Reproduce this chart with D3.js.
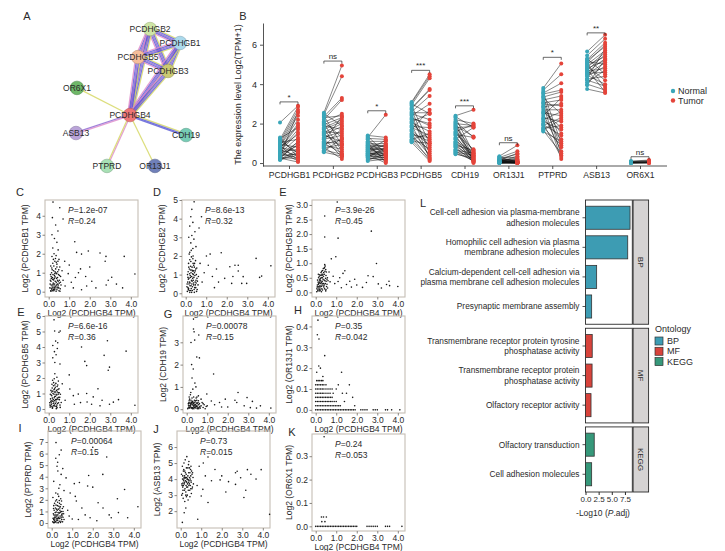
<!DOCTYPE html>
<html lang="en">
<head>
<meta charset="UTF-8">
<title>PCDHGB4 network, expression and enrichment</title>
<script src="https://d3js.org/d3.v7.min.js"></script>
<style>
    body { margin: 0; padding: 0; background: #fff; }
    svg { font-family: "Liberation Sans Narrow", "Liberation Sans", Arial, sans-serif; }
</style>
</head>
<body>
<svg id="fig" width="725" height="551"></svg>
<script>
// ---------- A: interaction network ----------
const nodeNames = ["PCDHGB2", "PCDHGB1", "PCDHGB5", "PCDHGB3", "OR6X1", "PCDHGB4", "ASB13", "CDH19", "PTPRD", "OR13J1"];
const nodeLayoutX = [0.667, 0.917, 0.567, 0.817, 0.058, 0.5, 0.05, 0.967, 0.308, 0.708];
const nodeLayoutY = [0.028, 0.124, 0.221, 0.317, 0.434, 0.621, 0.745, 0.759, 0.972, 0.972];
const nodeFill = ["#cfe6a6", "#aad9ec", "#f6bd9a", "#cbc972", "#6fb868", "#ef7575", "#baa4d9", "#76ccb5", "#a8e0b5", "#7080b9"];
const edgeSource = ["PCDHGB2", "PCDHGB2", "PCDHGB2", "PCDHGB2", "PCDHGB1", "PCDHGB1", "PCDHGB1", "PCDHGB5", "PCDHGB5", "PCDHGB3",
                    "PCDHGB4", "PCDHGB4", "PCDHGB4", "PCDHGB4", "PCDHGB4"];
const edgeTarget = ["PCDHGB1", "PCDHGB5", "PCDHGB3", "PCDHGB4", "PCDHGB5", "PCDHGB3", "PCDHGB4", "PCDHGB3", "PCDHGB4", "PCDHGB4",
                    "OR6X1", "ASB13", "CDH19", "PTPRD", "OR13J1"];
// evidence channels: y yellow, k pink, b blue, p purple
const edgeEvidence = ["ybpbk", "ybpbk", "ybpbk", "ybpbk", "ybpbk", "ybpbk", "ybpbk", "ybpbk", "ybpbk", "ybpbk",
                      "y", "kp", "ybb", "ky", "y"];
const evidenceColor = { y: "#d3d65c", k: "#dd86c8", b: "#5656d4", p: "#8a62d0" };

// ---------- B: paired normal / tumor expression ----------
const bGenes = ["PCDHGB1", "PCDHGB2", "PCDHGB3", "PCDHGB5", "CDH19", "OR13J1", "PTPRD", "ASB13", "OR6X1"];
const bNormal = [
    [2.05,1.3,1.25,1.2,1.15,1.1,1.05,1.0,0.95,0.9,0.88,0.85,0.8,0.78,0.75,0.7,0.68,0.65,0.6,0.58,0.55,0.5,0.48,0.45,0.4,0.38,0.35,0.3,0.28,0.25,0.22,0.2,0.18,0.15],
    [2.55,2.5,2.45,2.4,2.35,2.3,2.2,2.1,2.05,2.0,1.95,1.9,1.8,1.75,1.7,1.6,1.55,1.5,1.45,1.4,1.3,1.25,1.2,1.1,1.05,1.0,0.95,0.9,0.85,0.8,0.75,0.65,0.6,0.55],
    [1.4,1.35,1.3,1.25,1.2,1.1,1.05,1.0,0.95,0.9,0.88,0.85,0.8,0.78,0.75,0.7,0.68,0.65,0.6,0.58,0.55,0.5,0.48,0.45,0.42,0.4,0.38,0.35,0.3,0.28,0.25,0.2,0.15,0.1],
    [3.1,3.05,3.0,2.95,2.9,2.8,2.75,2.7,2.6,2.55,2.5,2.45,2.4,2.3,2.25,2.2,2.1,2.05,2.0,1.9,1.85,1.8,1.7,1.65,1.6,1.5,1.45,1.4,1.35,1.3,1.2,1.15,1.1,1.05],
    [2.4,2.35,2.3,2.2,2.1,2.05,2.0,1.95,1.9,1.85,1.8,1.75,1.7,1.6,1.55,1.5,1.45,1.4,1.3,1.25,1.2,1.1,1.05,1.0,0.95,0.9,0.85,0.8,0.7,0.65,0.6,0.55,0.5,0.45],
    [0.35,0.3,0.28,0.25,0.22,0.2,0.18,0.17,0.15,0.14,0.13,0.12,0.11,0.1,0.09,0.08,0.07,0.06,0.05,0.05,0.04,0.03,0.03,0.02,0.02,0.01,0.01,0.0,0.0,0.0],
    [3.8,3.7,3.6,3.55,3.5,3.4,3.35,3.3,3.2,3.1,3.05,3.0,2.9,2.85,2.8,2.7,2.6,2.55,2.5,2.4,2.3,2.25,2.2,2.1,2.0,1.95,1.9,1.8,1.75,1.7,1.65,1.6],
    [5.65,5.45,5.3,5.25,5.2,5.15,5.1,5.05,5.0,4.95,4.9,4.85,4.8,4.75,4.7,4.65,4.6,4.55,4.5,4.45,4.4,4.3,4.25,4.2,4.1,4.0,3.95,3.75],
    [0.1,0.08,0.06,0.05,0.04,0.03,0.02,0.02,0.01,0.0,0.0,0.0]
];
const bTumor = [
    [2.9,0.3,1.8,2.85,0.5,2.7,1.2,2.55,0.8,2.4,0.15,2.2,1.45,0.6,2.0,1.9,0.35,1.7,0.1,1.55,0.7,1.3,0.25,1.05,0.9,0.45,2.6,0.2,0.95,0.05,1.1,0.65,0.4,0.55],
    [4.95,1.9,4.4,0.9,3.3,2.4,3.2,1.3,2.5,0.6,2.3,1.7,2.2,0.4,2.1,1.5,2.0,0.8,1.85,1.1,1.6,0.3,1.4,2.35,1.0,0.5,1.2,0.7,1.75,0.2,0.95,0.45,1.25,0.35],
    [1.3,0.5,2.45,1.2,0.3,1.1,0.8,0.05,1.0,0.65,0.9,0.2,0.85,0.6,0.4,0.75,1.15,0.7,0.1,0.55,0.95,0.45,0.35,0.65,0.0,0.6,0.25,0.5,0.8,0.4,0.15,0.3,0.45,0.2],
    [4.5,4.4,2.5,4.3,1.0,3.75,3.7,0.5,3.4,2.55,2.2,0.2,3.0,1.9,2.0,0.8,2.5,1.6,1.2,0.3,1.8,1.4,2.7,0.9,0.6,1.1,0.4,1.3,0.15,0.7,1.5,0.25,1.0,0.1],
    [2.7,1.8,0.5,2.0,1.3,0.3,1.9,0.1,1.35,0.6,1.85,0.2,0.05,1.95,0.4,0.7,1.3,0.15,0.35,0.0,1.8,0.55,0.25,0.45,0.1,0.65,0.3,0.05,0.2,0.5,0.1,0.4,0.15,0.25],
    [0.9,0.05,0.6,0.3,0.45,0.1,0.02,0.2,0.0,0.5,0.08,0.15,0.0,0.25,0.04,0.12,0.0,0.35,0.06,0.0,0.1,0.02,0.18,0.0,0.05,0.03,0.0,0.07,0.01,0.0],
    [5.05,4.5,1.0,4.05,3.7,0.4,3.6,2.5,3.4,0.8,3.2,2.9,0.2,3.0,1.5,2.7,1.8,2.4,0.6,3.3,2.1,1.2,2.6,1.7,0.3,1.4,2.3,0.9,1.9,2.2,0.5,1.1],
    [6.5,6.3,4.5,6.1,5.9,5.0,6.0,3.8,5.7,5.4,4.2,5.6,5.2,3.6,5.5,4.8,5.3,4.6,5.1,4.0,4.9,5.8,4.4,3.9,4.7,3.7,5.25,3.55],
    [0.15,0.1,0.12,0.05,0.08,0.03,0.06,0.02,0.04,0.01,0.0,0.02]
];
const bSignif = ["*", "ns", "*", "***", "***", "ns", "*", "**", "ns"];
const bBracketY = [3.1, 5.17, 2.65, 4.7, 2.9, 1.03, 5.36, 6.6, 0.32];
const bYTicks = [0, 2, 4, 6];

// ---------- C-K: correlation with PCDHGB4 ----------
const xTicks = [0, 1, 2, 3, 4];
const ptsC = [[0.21,4.72],[0.54,4.42],[0.18,3.9],[0.7,3.83],[0.34,3.51],[0.16,3.0],[0.45,3.2],[0.28,2.8],[0.4,2.6],[1.27,2.63],[1.36,2.07],[1.6,1.98],[1.93,2.14],[2.5,2.04],[2.79,1.86],[2.75,1.6],[3.68,1.86],[4.2,0.93],[3.07,0.76],[2.9,0.6],[2.8,0.35],[3.3,0.4],[3.6,0.2],[2.3,0.2],[1.85,0.3],[1.3,0.75],[0.95,0.95],[1.45,1.0],[1.0,1.4],[0.78,1.6],[1.55,1.2],[2.0,1.3],[1.8,0.8],[1.1,0.5],[0.8,0.3],[1.6,0.1],[2.1,0.55],[0.65,1.1],[0.7,0.6],[1.2,0.2],
    [0.1,0.05],[0.15,0.1],[0.2,0.2],[0.25,0.05],[0.3,0.15],[0.35,0.3],[0.4,0.1],[0.45,0.25],[0.5,0.05],[0.12,0.35],[0.22,0.45],[0.32,0.55],[0.42,0.4],[0.52,0.6],[0.08,0.6],[0.18,0.75],[0.28,0.85],[0.38,0.7],[0.48,0.9],[0.14,1.0],[0.24,1.1],[0.34,1.2],[0.44,1.05],[0.54,1.3],[0.1,1.35],[0.2,1.5],[0.3,1.6],[0.4,1.45],[0.5,1.7],[0.16,1.85],[0.26,2.0],[0.36,1.9],[0.46,2.2],[0.2,2.3],[0.06,0.2],[0.26,0.3],[0.36,0.02],[0.56,0.15],[0.6,0.35],[0.12,0.8],[0.3,0.95],[0.46,0.55],[0.24,0.62],[0.4,1.3],[0.58,0.8],
    [0.07,0.4],[0.11,0.55],[0.13,0.18],[0.17,0.3],[0.19,0.65],[0.21,0.9],[0.23,0.12],[0.27,0.7],[0.29,0.4],[0.31,1.05],[0.33,0.25],[0.37,0.5],[0.39,0.95],[0.41,0.2],[0.43,0.75],[0.47,0.35],[0.49,1.15],[0.51,0.45],[0.53,0.85],[0.57,0.5],[0.09,0.9],[0.15,1.25],[0.25,1.35],[0.35,1.0],[0.45,1.6],[0.19,0.05],[0.29,0.1],[0.39,0.35],[0.49,0.2],[0.13,0.7],[0.23,1.7],[0.33,1.75],[0.43,0.6],[0.17,1.15],[0.27,0.22],[0.37,1.55],[0.55,0.02],[0.11,0.02],[0.21,0.38],[0.31,0.78]];
const ptsD = [[0.41,4.9],[0.65,3.5],[0.77,4.1],[0.3,4.5],[0.25,4.1],[0.35,3.8],[0.2,3.6],[0.45,3.3],[0.3,3.1],[0.15,3.0],[0.4,2.9],[0.25,2.7],[0.5,2.5],[0.35,2.4],[0.2,2.2],[1.01,2.0],[1.19,2.1],[1.73,2.17],[2.15,1.42],[2.4,1.5],[2.56,1.5],[2.56,1.19],[2.8,0.89],[2.97,0.53],[2.73,0.53],[3.43,1.87],[3.7,0.92],[3.6,0.85],[4.15,1.47],[2.24,0.53],[2.3,0.9],[1.5,1.3],[1.3,0.9],[1.6,0.6],[1.9,0.8],[1.1,1.5],[0.9,1.1],[0.8,0.6],[1.4,0.3],[0.7,1.6],
    [0.08,0.1],[0.14,0.25],[0.2,0.05],[0.26,0.4],[0.32,0.15],[0.38,0.55],[0.44,0.3],[0.5,0.7],[0.56,0.2],[0.1,0.6],[0.16,0.8],[0.22,0.95],[0.28,0.7],[0.34,1.05],[0.4,0.85],[0.46,1.2],[0.52,1.0],[0.12,1.15],[0.18,1.3],[0.24,1.45],[0.3,1.25],[0.36,1.6],[0.42,1.4],[0.48,1.75],[0.2,1.8],[0.28,1.95],[0.36,2.0],[0.6,0.45],[0.62,0.9],[0.06,0.35],[0.24,0.15],[0.3,0.5],[0.42,0.05],[0.16,0.5],[0.34,0.8],[0.46,0.6],[0.54,1.35],[0.14,1.6],[0.26,1.1],[0.38,1.2],
    [0.07,0.5],[0.11,0.3],[0.13,0.75],[0.17,0.15],[0.19,1.05],[0.21,0.4],[0.23,1.25],[0.27,0.25],[0.29,0.9],[0.31,1.4],[0.33,0.35],[0.37,0.7],[0.39,1.5],[0.41,0.2],[0.43,1.1],[0.47,0.45],[0.49,1.3],[0.51,0.55],[0.53,0.1],[0.57,0.65],[0.09,1.0],[0.15,1.4],[0.25,1.7],[0.35,1.85],[0.45,0.95],[0.19,0.6],[0.29,0.05],[0.39,0.45],[0.49,0.3],[0.13,0.2],[0.23,0.85],[0.33,1.2],[0.43,1.6],[0.17,2.1],[0.27,2.3],[0.37,1.0],[0.55,0.8],[0.11,0.85],[0.21,0.55],[0.31,0.65]];
const ptsE1 = [[1.05,3.1],[0.44,2.62],[0.44,1.9],[1.09,1.86],[0.98,1.22],[0.76,1.15],[2.71,2.1],[2.96,0.99],[2.55,0.57],[2.8,0.54],[2.47,0.34],[3.05,0.29],[3.45,0.27],[3.57,0.38],[4.0,0.2],[3.6,0.23],[2.28,0.17],[1.66,0.38],[1.5,0.27],[1.33,0.65],[1.42,0.74],[1.17,0.5],[1.09,0.37],[1.74,0.18],[1.25,0.16],[0.93,0.3],[0.7,0.36],[0.85,0.55],[0.65,0.7],[2.0,0.25],[1.9,0.45],[3.2,0.15],
    [0.05,0.02],[0.1,0.08],[0.15,0.15],[0.2,0.05],[0.25,0.22],[0.3,0.12],[0.35,0.3],[0.4,0.18],[0.45,0.4],[0.5,0.1],[0.55,0.28],[0.08,0.25],[0.12,0.35],[0.18,0.42],[0.22,0.3],[0.28,0.5],[0.32,0.38],[0.38,0.55],[0.42,0.62],[0.48,0.48],[0.52,0.7],[0.14,0.5],[0.2,0.6],[0.26,0.68],[0.34,0.75],[0.4,0.82],[0.46,0.9],[0.44,0.95],[0.3,0.62],[0.36,0.45],[0.24,0.4],[0.16,0.2],[0.58,0.15],[0.6,0.4],[0.06,0.12],[0.5,0.58],[0.28,0.02],[0.42,0.25],
    [0.07,0.18],[0.11,0.05],[0.13,0.28],[0.17,0.1],[0.19,0.35],[0.21,0.15],[0.23,0.48],[0.27,0.2],[0.29,0.32],[0.31,0.58],[0.33,0.08],[0.37,0.22],[0.39,0.68],[0.41,0.42],[0.43,0.12],[0.47,0.3],[0.49,0.78],[0.51,0.38],[0.53,0.2],[0.57,0.5],[0.09,0.42],[0.15,0.3],[0.25,0.58],[0.35,0.62],[0.45,0.72],[0.19,0.22],[0.29,0.72],[0.39,0.3],[0.49,0.05],[0.13,0.62],[0.23,0.08],[0.33,0.5],[0.43,0.85],[0.17,0.55],[0.27,0.35],[0.37,0.82],[0.55,0.45],[0.11,0.2],[0.21,0.45],[0.31,0.25]];
const ptsE2 = [[0.26,5.75],[0.29,5.03],[0.56,5.03],[0.5,4.95],[0.34,4.38],[0.44,4.27],[0.2,4.1],[0.28,3.7],[0.36,3.5],[0.2,3.3],[0.55,2.9],[0.3,3.0],[0.42,3.9],[2.86,4.4],[3.77,3.73],[2.7,3.46],[2.96,2.7],[2.9,2.5],[1.76,3.07],[1.6,4.0],[1.85,2.8],[1.55,0.41],[1.87,0.45],[2.6,0.56],[2.96,0.3],[3.15,0.44],[4.2,0.24],[1.03,1.29],[1.2,0.86],[0.66,1.62],[1.44,0.96],[1.85,1.0],[2.17,0.78],[0.8,0.56],[1.25,0.3],[2.09,0.3],[2.5,0.2],[0.4,2.05],[0.3,2.27],[2.4,1.3],[3.4,0.6],[1.0,2.2],
    [0.07,0.12],[0.13,0.3],[0.19,0.08],[0.25,0.45],[0.31,0.18],[0.37,0.6],[0.43,0.35],[0.49,0.75],[0.55,0.25],[0.09,0.65],[0.15,0.85],[0.21,1.0],[0.27,0.72],[0.33,1.1],[0.39,0.9],[0.45,1.25],[0.51,1.05],[0.11,1.2],[0.17,1.35],[0.23,1.5],[0.29,1.3],[0.35,1.65],[0.41,1.45],[0.47,1.8],[0.19,1.85],[0.05,0.4],[0.23,0.2],[0.29,0.55],[0.41,0.08],[0.15,0.52],[0.33,0.82],[0.45,0.62],[0.57,0.95],[0.61,0.42],[0.37,0.02],[0.27,1.95],
    [0.06,0.25],[0.1,0.5],[0.12,0.9],[0.16,0.15],[0.18,0.7],[0.2,1.15],[0.22,0.35],[0.26,0.95],[0.28,0.25],[0.3,0.8],[0.32,1.4],[0.36,0.45],[0.38,1.2],[0.4,0.25],[0.42,0.7],[0.46,0.95],[0.48,0.4],[0.5,1.3],[0.52,0.6],[0.56,0.1],[0.08,0.95],[0.14,1.1],[0.24,1.7],[0.34,0.6],[0.44,1.55],[0.18,0.05],[0.28,1.1],[0.38,0.15],[0.48,1.05],[0.12,0.4],[0.22,0.6],[0.32,0.35],[0.42,1.1],[0.16,1.6],[0.26,1.25],[0.36,0.95],[0.54,0.75],[0.1,0.2],[0.2,0.5],[0.3,1.55]];
const ptsG = [[0.33,4.04],[0.33,3.6],[0.36,3.47],[0.59,3.33],[0.21,2.99],[0.39,3.1],[0.49,2.34],[0.62,2.3],[0.24,2.0],[0.32,1.8],[1.31,1.58],[0.26,1.4],[0.4,1.17],[0.98,0.68],[0.57,0.6],[1.88,0.45],[2.5,0.75],[2.94,0.52],[3.2,0.35],[3.59,0.15],[4.1,0.05],[3.1,0.07],[2.44,0.3],[1.7,0.1],[1.2,0.37],[1.36,0.2],[1.6,0.3],[2.35,0.4],[0.3,0.9],[0.45,1.0],[0.2,0.75],[0.5,0.55],[0.8,0.25],[1.0,0.15],[2.0,0.1],[2.8,0.15],[3.4,0.05],[0.7,0.45],
    [0.05,0.02],[0.1,0.1],[0.15,0.05],[0.2,0.2],[0.25,0.08],[0.3,0.3],[0.35,0.12],[0.4,0.22],[0.45,0.05],[0.5,0.15],[0.55,0.3],[0.6,0.08],[0.08,0.25],[0.12,0.38],[0.18,0.15],[0.22,0.32],[0.28,0.02],[0.32,0.18],[0.38,0.4],[0.42,0.1],[0.48,0.28],[0.52,0.02],[0.58,0.2],[0.64,0.12],[0.14,0.45],[0.26,0.5],[0.36,0.3],[0.44,0.38],[0.16,0.28],[0.3,0.08],
    [0.07,0.05],[0.09,0.18],[0.11,0.3],[0.13,0.08],[0.17,0.25],[0.19,0.1],[0.21,0.4],[0.23,0.05],[0.27,0.2],[0.29,0.35],[0.31,0.05],[0.33,0.25],[0.37,0.18],[0.39,0.08],[0.41,0.32],[0.43,0.2],[0.47,0.12],[0.49,0.4],[0.51,0.25],[0.53,0.1],[0.57,0.38],[0.59,0.02],[0.62,0.25],[0.66,0.05],[0.7,0.15],[0.75,0.3],[0.8,0.08],[0.85,0.2],[0.9,0.02],[0.95,0.12],[0.12,0.55],[0.18,0.65],[0.24,0.3],[0.34,0.55],[0.46,0.5],[0.15,0.15],[0.25,0.25],[0.35,0.02],[0.45,0.15],[0.55,0.05]];
const ptsH = [[0.11,0.43],[0.08,0.36],[0.16,0.34],[0.44,0.26],[0.15,0.21],[0.23,0.2],[0.05,0.18],[1.26,0.18],[1.64,0.12],[0.35,0.16]];
const hLevelY = [0.14, 0.12, 0.1, 0.08, 0.06, 0.04, 0.02, 0];
const hLevelX = [
    [0.05,0.12,0.2,0.28,0.35],
    [0,0.08,0.16,0.24,0.32,0.4,0.5,1.1],
    [0,0.08,0.16,0.24,0.32,0.4,0.5,0.6,0.7,0.8,1.0],
    [0,0.08,0.16,0.24,0.32,0.4,0.5,0.6,0.7,0.85,1.3,1.5],
    [0,0.08,0.16,0.24,0.32,0.4,0.48,0.56,0.64,0.72,0.8,1.8],
    [0,0.08,0.16,0.24,0.32,0.4,0.48,0.56,0.64,0.72,0.8,0.9,1.0,1.4],
    [0,0.08,0.16,0.24,0.32,0.4,0.48,0.56,0.64,0.72,0.8,0.88,0.96,1.04,1.12,1.2,1.9],
    [0,0.08,0.16,0.24,0.32,0.4,0.48,0.56,0.64,0.72,0.8,0.88,0.96,1.04,1.12,1.2,1.28,1.36,1.44,1.52,1.6,1.68,1.76,1.84,1.92,2.2,2.3,2.4,2.5,2.8,2.9,3.0,3.4,3.5,3.7,4.1]
];
const ptsI = [[0.21,6.95],[0.46,6.3],[0.37,5.9],[0.29,5.25],[0.26,4.9],[0.54,4.7],[0.46,4.2],[0.7,3.9],[0.1,3.6],[0.3,4.5],[0.2,5.6],[0.4,3.3],[2.0,6.55],[2.68,5.7],[2.49,4.2],[1.8,4.1],[1.75,3.2],[1.35,3.5],[2.0,3.1],[1.1,3.4],[1.15,2.3],[2.26,1.75],[2.5,1.3],[2.8,0.7],[2.9,0.45],[3.25,0.9],[3.55,2.9],[3.7,0.45],[4.2,1.4],[1.47,1.3],[1.63,0.7],[1.87,0.45],[1.3,0.3],[1.0,0.35],[0.78,1.1],[3.2,2.1],[0.9,2.6],[1.2,1.9],[0.85,0.6],[2.2,0.2],[0.6,2.8],[0.35,3.0],
    [0.05,0.1],[0.1,0.3],[0.15,0.05],[0.2,0.5],[0.25,0.2],[0.3,0.7],[0.35,0.4],[0.4,0.9],[0.45,0.15],[0.5,0.6],[0.55,1.0],[0.6,0.3],[0.08,0.8],[0.12,1.1],[0.18,1.3],[0.22,0.95],[0.28,1.5],[0.32,1.2],[0.38,1.7],[0.42,1.4],[0.48,1.9],[0.52,1.25],[0.58,0.8],[0.14,1.7],[0.24,2.0],[0.34,2.3],[0.44,2.1],[0.2,2.6],[0.3,2.5],[0.16,0.6],[0.26,0.02],[0.36,0.85],[0.46,0.45],[0.1,1.5],[0.4,1.1],[0.06,2.2],
    [0.07,0.4],[0.09,0.05],[0.11,0.7],[0.13,0.2],[0.17,0.9],[0.19,0.1],[0.21,0.7],[0.23,0.35],[0.27,1.1],[0.29,0.25],[0.31,0.9],[0.33,0.5],[0.37,0.15],[0.39,1.3],[0.41,0.6],[0.43,0.05],[0.47,1.0],[0.49,0.3],[0.51,0.8],[0.53,0.1],[0.57,1.4],[0.09,1.25],[0.15,0.35],[0.25,0.6],[0.35,1.45],[0.45,1.6],[0.19,1.9],[0.29,1.8],[0.39,0.4],[0.49,0.7],[0.13,0.45],[0.23,1.2],[0.33,0.02],[0.43,0.95],[0.17,0.15],[0.27,0.4],[0.37,1.95],[0.55,0.5],[0.11,0.02],[0.21,1.55]];
const ptsJ = [[0.58,6.86],[1.33,5.38],[1.67,4.6],[2.0,4.2],[1.92,3.95],[2.33,3.84],[2.67,4.4],[2.75,4.49],[3.25,4.59],[2.92,4.08],[3.42,4.3],[3.67,4.0],[3.92,4.59],[3.08,2.85],[4.33,1.8],[2.67,3.67],[3.17,3.3],[1.08,3.36],[1.0,2.95],[1.33,2.54],[0.83,1.5],[0.08,1.3],[0.17,1.9],[0.25,2.2],[1.2,4.2],[0.9,4.8],[1.5,3.9],[2.2,3.2],[0.8,3.6],[1.1,5.0],
    [0.05,3.0],[0.1,3.5],[0.15,4.0],[0.2,4.5],[0.25,3.2],[0.3,3.8],[0.35,4.2],[0.4,3.6],[0.45,4.4],[0.5,3.9],[0.55,3.4],[0.6,4.1],[0.08,4.8],[0.12,2.8],[0.18,3.3],[0.22,5.2],[0.28,4.7],[0.32,3.0],[0.38,4.9],[0.42,3.7],[0.48,4.6],[0.52,3.1],[0.58,4.4],[0.14,3.9],[0.24,4.1],[0.34,3.5],[0.44,3.3],[0.04,4.3],[0.2,2.6],[0.3,5.4],[0.16,5.0],[0.36,2.7],[0.62,3.7],[0.26,3.6],[0.46,4.0],[0.1,4.2],[0.4,5.1],[0.5,4.8],[0.06,3.7],[0.28,2.9],
    [0.07,3.6],[0.09,4.0],[0.11,3.3],[0.13,4.5],[0.17,3.7],[0.19,4.2],[0.21,3.4],[0.23,3.9],[0.27,4.3],[0.29,3.5],[0.31,4.0],[0.33,3.7],[0.37,3.3],[0.39,4.4],[0.41,3.9],[0.43,4.1],[0.47,3.6],[0.49,4.2],[0.51,3.8],[0.53,4.5],[0.57,3.5],[0.09,3.1],[0.15,4.6],[0.25,3.0],[0.35,4.7],[0.45,2.9],[0.19,3.8],[0.29,4.1],[0.39,3.8],[0.49,3.4],[0.13,3.6],[0.23,4.4],[0.33,4.0],[0.43,4.7],[0.17,4.1],[0.27,3.85],[0.37,3.95],[0.55,4.3],[0.11,3.75],[0.21,4.05]];
const ptsK = [[0.41,0.383],[0.28,0.04],[0.52,0.04],[0.38,0.04],[0.3,0.02],[0.45,0.02]];
const kZeroX = [0,0.08,0.16,0.24,0.32,0.4,0.48,0.56,0.64,0.72,0.8,0.88,0.96,1.04,1.12,1.2,1.28,1.36,1.44,1.52,1.6,1.68,1.76,1.84,1.92,2.0,2.5,2.6,2.7,2.8,2.9,3.0,3.4,3.5,3.6,4.2];

// ---------- L: enrichment ----------
const goTerms = ["Cell-cell adhesion via plasma-membrane|adhesion molecules",
                 "Homophilic cell adhesion via plasma|membrane adhesion molecules",
                 "Calcium-dependent cell-cell adhesion via|plasma membrane cell adhesion molecules",
                 "Presynaptic membrane assembly",
                 "Transmembrane receptor protein tyrosine|phosphatase activity",
                 "Transmembrane receptor protein|phosphatase activity",
                 "Olfactory receptor activity",
                 "Olfactory transduction",
                 "Cell adhesion molecules"];
const goValue = [8.47, 8.03, 2.12, 1.17, 1.28, 1.25, 1.05, 1.66, 1.17];
const goOntology = ["BP", "BP", "BP", "BP", "MF", "MF", "MF", "KEGG", "KEGG"];
const ontologies = ["BP", "MF", "KEGG"];
const ontologyColor = { BP: "#3d9cb3", MF: "#d8433b", KEGG: "#36987a" };
const goXTicks = [0, 2.5, 5, 7.5];

const svg = d3.select("#fig");
const ink = "#2a2a2a";

function letter(t, x, y) {
    svg.append("text").attr("x", x).attr("y", y).attr("font-size", 11)
        .attr("fill", ink).attr("text-anchor", "middle").text(t);
}

// ================= A =================
letter("A", 27, 20);
const nx = d3.scaleLinear().domain([0, 1]).range([70, 190]);
const ny = d3.scaleLinear().domain([0, 1]).range([25, 170]);
const nodes = nodeNames.map((n, i) => ({ id: n, x: nx(nodeLayoutX[i]), y: ny(nodeLayoutY[i]), fill: nodeFill[i] }));
const byId = new Map(nodes.map(d => [d.id, d]));
const netEdges = svg.append("g");
edgeSource.forEach((s, i) => {
    const a = byId.get(s), b = byId.get(edgeTarget[i]);
    const len = Math.hypot(b.x - a.x, b.y - a.y);
    const ox = -(b.y - a.y) / len, oy = (b.x - a.x) / len;
    const ev = edgeEvidence[i].split("");
    ev.forEach((c, k) => {
        const off = (k - (ev.length - 1) / 2) * 1.2;
        netEdges.append("line")
            .attr("x1", a.x + ox * off).attr("y1", a.y + oy * off)
            .attr("x2", b.x + ox * off).attr("y2", b.y + oy * off)
            .attr("stroke", evidenceColor[c]).attr("stroke-width", 1.25)
            .attr("stroke-opacity", 0.8);
    });
});
svg.append("g").selectAll("circle").data(nodes).join("circle")
    .attr("cx", d => d.x).attr("cy", d => d.y).attr("r", 6.8)
    .attr("fill", d => d.fill)
    .attr("stroke", d => d3.color(d.fill).darker(0.7)).attr("stroke-width", 0.6);
svg.append("g").selectAll("text").data(nodes).join("text")
    .attr("x", d => d.x).attr("y", d => d.y).attr("dy", "0.35em")
    .attr("text-anchor", "middle").attr("font-size", 8.5).attr("fill", ink)
    .text(d => d.id);

// ================= B =================
letter("B", 243, 20);
const bLeft = 263, bRight = 667, bTop = 23, bBottom = 166;
const bx = d3.scalePoint().domain(bGenes).range([289, 640]);
const by = d3.scaleLinear().domain([-0.15, 7.1]).range([bBottom, bTop]);
const pairGap = 9;
const normalCol = "#3aa6b9", tumorCol = "#e4443a";

const bPanel = svg.append("g");
bGenes.forEach((gene, gi) => {
    const cx = bx(gene);
    const pairs = bNormal[gi].map((v, k) => [v, bTumor[gi][k]]);
    bPanel.append("g").selectAll("line").data(pairs).join("line")
        .attr("x1", cx - pairGap).attr("x2", cx + pairGap)
        .attr("y1", d => by(d[0])).attr("y2", d => by(d[1]))
        .attr("stroke", "#111").attr("stroke-width", 0.5);
    bPanel.append("g").selectAll("circle").data(bNormal[gi]).join("circle")
        .attr("cx", cx - pairGap).attr("cy", d => by(d)).attr("r", 2).attr("fill", normalCol);
    bPanel.append("g").selectAll("circle").data(bTumor[gi]).join("circle")
        .attr("cx", cx + pairGap).attr("cy", d => by(d)).attr("r", 2).attr("fill", tumorCol);
    const yb = by(bBracketY[gi]);
    bPanel.append("path")
        .attr("d", `M${cx - pairGap},${yb + 2.5}V${yb}H${cx + pairGap}V${yb + 2.5}`)
        .attr("fill", "none").attr("stroke", ink).attr("stroke-width", 0.7);
    bPanel.append("text").attr("x", cx).attr("y", yb - 2)
        .attr("text-anchor", "middle").attr("font-size", 8).attr("fill", ink)
        .text(bSignif[gi]);
});

const byAxis = svg.append("g").attr("transform", `translate(${bLeft},0)`)
    .call(d3.axisLeft(by).tickValues(bYTicks).tickSize(3).tickSizeOuter(0));
const bxAxis = svg.append("g").attr("transform", `translate(0,${bBottom})`)
    .call(d3.axisBottom(bx).tickSize(3).tickSizeOuter(0));
bxAxis.select(".domain").remove();
svg.append("line").attr("x1", bLeft).attr("x2", bRight).attr("y1", bBottom).attr("y2", bBottom)
    .attr("stroke", ink).attr("stroke-width", 0.8);
[byAxis, bxAxis].forEach(ax => {
    ax.selectAll("path,line").attr("stroke", ink).attr("stroke-width", 0.8);
    ax.selectAll("text").attr("font-family", null).attr("font-size", 8.6).attr("fill", ink);
});
byAxis.selectAll("text").attr("font-size", 9);
svg.append("text")
    .attr("transform", `translate(241,${(bTop + bBottom) / 2}) rotate(-90)`)
    .attr("text-anchor", "middle").attr("font-size", 9).attr("fill", ink)
    .text("The expression level Log2(TPM+1)");
const bLegend = svg.append("g").attr("transform", "translate(673,91)");
[["Normal", normalCol], ["Tumor", tumorCol]].forEach((d, i) => {
    bLegend.append("circle").attr("cx", 0).attr("cy", i * 9.5).attr("r", 2.2).attr("fill", d[1]);
    bLegend.append("text").attr("x", 5).attr("y", i * 9.5).attr("dy", "0.35em")
        .attr("font-size", 9).attr("fill", ink).text(d[0]);
});

// ================= C - K =================
const fw = 93, fh = 97;
const scatterPanels = [
    { tag: "C", lx: 20, ly: 196, left: 45, top: 200, gene: "PCDHGB1", dom: [-0.28, 4.83], ticks: [0, 1, 2, 3, 4], fmt: "d", pts: ptsC, p: "1.2e-07", r: "0.24" },
    { tag: "D", lx: 157, ly: 196, left: 182, top: 200, gene: "PCDHGB2", dom: [-0.2, 5.0], ticks: [0, 1, 2, 3, 4, 5], fmt: "d", pts: ptsD, p: "8.6e-13", r: "0.32" },
    { tag: "E", lx: 283, ly: 196, left: 312, top: 200, gene: "PCDHGB3", dom: [-0.16, 3.17], ticks: [0, 0.5, 1, 1.5, 2, 2.5, 3], fmt: ".1f", pts: ptsE1, p: "3.9e-26", r: "0.45" },
    { tag: "E", lx: 21, ly: 316, left: 45, top: 316, gene: "PCDHGB5", dom: [-0.26, 6.0], ticks: [0, 1, 2, 3, 4, 5, 6], fmt: "d", pts: ptsE2, p: "6.6e-16", r: "0.36" },
    { tag: "G", lx: 168, ly: 318, left: 183, top: 316, gene: "CDH19", dom: [-0.17, 4.18], ticks: [0, 1, 2, 3], fmt: "d", pts: ptsG, p: "0.00078", r: "0.15" },
    { tag: "H", lx: 298, ly: 314, left: 312, top: 316, gene: "OR13J1", dom: [-0.015, 0.45], ticks: [0, 0.1, 0.2, 0.3, 0.4], fmt: ".1f",
      pts: ptsH.concat(hLevelY.flatMap((yv, i) => hLevelX[i].map(xv => [xv, yv]))), p: "0.35", r: "0.042" },
    { tag: "I", lx: 20, ly: 432, left: 48, top: 431, gene: "PTPRD", dom: [-0.43, 7.95], ticks: [0, 1, 2, 3, 4, 5, 6, 7], fmt: "d", pts: ptsI, p: "0.00064", r: "0.15" },
    { tag: "J", lx: 156, ly: 433, left: 177, top: 431, gene: "ASB13 ", dom: [0.95, 7.0], ticks: [2, 3, 4, 5, 6], fmt: "d", pts: ptsJ, p: "0.73", r: "0.015" },
    { tag: "K", lx: 292, ly: 436, left: 312, top: 434, gene: "OR6X1", dom: [-0.02, 0.395], ticks: [0, 0.1, 0.2, 0.3], fmt: ".1f",
      pts: ptsK.concat(kZeroX.map(xv => [xv, 0])), p: "0.24", r: "0.053" }
];

scatterPanels.forEach(cfg => {
    letter(cfg.tag, cfg.lx, cfg.ly);
    const g = svg.append("g");
    const x = d3.scaleLinear().domain([-0.18, 4.35]).range([cfg.left, cfg.left + fw]);
    const y = d3.scaleLinear().domain(cfg.dom).range([cfg.top + fh, cfg.top]);
    g.append("rect").attr("x", cfg.left).attr("y", cfg.top).attr("width", fw).attr("height", fh)
        .attr("fill", "none").attr("stroke", "#c5beb5").attr("stroke-width", 1.1);
    g.append("g").selectAll("circle").data(cfg.pts).join("circle")
        .attr("cx", d => x(d[0])).attr("cy", d => y(d[1])).attr("r", 0.8).attr("fill", "#161616");
    const xa = g.append("g").attr("transform", `translate(0,${cfg.top + fh})`)
        .call(d3.axisBottom(x).tickValues(xTicks).tickSize(2.5).tickPadding(1.5));
    const ya = g.append("g").attr("transform", `translate(${cfg.left},0)`)
        .call(d3.axisLeft(y).tickValues(cfg.ticks).tickFormat(d3.format(cfg.fmt)).tickSize(2.5).tickPadding(1.5));
    [xa, ya].forEach(ax => {
        ax.select(".domain").remove();
        ax.selectAll("line").attr("stroke", "#8a857f");
        ax.selectAll("text").attr("font-family", null).attr("font-size", 8.5).attr("fill", ink);
    });
    g.append("text").attr("x", cfg.left + fw / 2).attr("y", cfg.top + fh + 18.5)
        .attr("text-anchor", "middle").attr("font-size", 8.5).attr("fill", ink)
        .text("Log2 (PCDHGB4 TPM)");
    const yOff = cfg.fmt === "d" ? 17 : 20;
    g.append("text")
        .attr("transform", `translate(${cfg.left - yOff},${cfg.top + fh / 2}) rotate(-90)`)
        .attr("text-anchor", "middle").attr("font-size", 8.5).attr("fill", ink)
        .text(`Log2 (${cfg.gene} TPM)`);
    const stat = g.append("g").attr("font-size", 8.5).attr("fill", ink);
    const t1 = stat.append("text").attr("x", cfg.left + 23).attr("y", cfg.top + 13);
    t1.append("tspan").attr("font-style", "italic").text("P");
    t1.append("tspan").text("=" + cfg.p);
    const t2 = stat.append("text").attr("x", cfg.left + 23).attr("y", cfg.top + 24);
    t2.append("tspan").attr("font-style", "italic").text("R");
    t2.append("tspan").text("=" + cfg.r);
});

// ================= L =================
letter("L", 423, 207);
const lLeft = 585.5, lRight = 632.3, stripW = 15.5;
const lTop = 200, lBottom = 492, facetGap = 4;
const counts = ontologies.map(o => goOntology.filter(v => v === o).length);
const unit = (lBottom - lTop - facetGap * (ontologies.length - 1)) / d3.sum(counts, c => c + 0.2);
const lx = d3.scaleLinear().domain([0, 8.9]).range([lLeft, lRight]);
let facetTop = lTop;
ontologies.forEach((ont, oi) => {
    const terms = goTerms.filter((t, i) => goOntology[i] === ont);
    const vals = goValue.filter((v, i) => goOntology[i] === ont);
    const h = (counts[oi] + 0.2) * unit;
    const yb = d3.scaleBand().domain(terms).range([facetTop, facetTop + h])
        .paddingInner(0.22).paddingOuter(0.21);
    const g = svg.append("g");
    g.append("rect").attr("x", lLeft).attr("y", facetTop).attr("width", lRight - lLeft).attr("height", h)
        .attr("fill", "#fff").attr("stroke", ink).attr("stroke-width", 0.9);
    g.selectAll(".bar").data(terms).join("rect").attr("class", "bar")
        .attr("x", lx(0)).attr("y", d => yb(d))
        .attr("width", (d, i) => lx(vals[i]) - lx(0)).attr("height", yb.bandwidth())
        .attr("fill", ontologyColor[ont]).attr("stroke", "#333").attr("stroke-width", 0.8);
    g.append("rect").attr("x", lRight + 0.8).attr("y", facetTop).attr("width", stripW).attr("height", h)
        .attr("fill", "#d5d3d3").attr("stroke", ink).attr("stroke-width", 0.9);
    g.append("text")
        .attr("transform", `translate(${lRight + 0.8 + stripW / 2},${facetTop + h / 2}) rotate(90)`)
        .attr("text-anchor", "middle").attr("dy", "0.35em").attr("font-size", 8).attr("fill", ink)
        .text(ont);
    terms.forEach(t => {
        const cy = yb(t) + yb.bandwidth() / 2;
        g.append("line").attr("x1", lLeft - 3).attr("x2", lLeft).attr("y1", cy).attr("y2", cy)
            .attr("stroke", ink).attr("stroke-width", 0.8);
        const lines = t.split("|");
        const lab = g.append("text").attr("text-anchor", "end").attr("font-size", 8.3).attr("fill", ink);
        lines.forEach((ln, k) => {
            lab.append("tspan").attr("x", lLeft - 6)
                .attr("y", cy + (k - (lines.length - 1) / 2) * 10.5).attr("dy", "0.35em").text(ln);
        });
    });
    facetTop += h + facetGap;
});
const lAxis = svg.append("g").attr("transform", `translate(0,${lBottom})`)
    .call(d3.axisBottom(lx).tickValues(goXTicks).tickFormat(d3.format(".1f")).tickSize(3).tickPadding(1.5).tickSizeOuter(0));
lAxis.select(".domain").remove();
lAxis.selectAll("line").attr("stroke", ink);
lAxis.selectAll("text").attr("font-family", null).attr("font-size", 8).attr("fill", ink);
const lTitle = svg.append("text").attr("x", 603).attr("y", 516).attr("text-anchor", "middle")
    .attr("font-size", 8.5).attr("fill", ink);
lTitle.append("tspan").text("-Log10 (");
lTitle.append("tspan").attr("font-style", "italic").text("P");
lTitle.append("tspan").text(".adj)");

const lLegend = svg.append("g").attr("transform", "translate(655,329)");
lLegend.append("text").attr("x", 0).attr("y", 3).attr("font-size", 9).attr("fill", ink).text("Ontology");
ontologies.forEach((o, i) => {
    lLegend.append("rect").attr("x", 0).attr("y", 8 + i * 10.3).attr("width", 8).attr("height", 8)
        .attr("fill", ontologyColor[o]).attr("stroke", "#333").attr("stroke-width", 0.7);
    lLegend.append("text").attr("x", 12).attr("y", 12 + i * 10.3).attr("dy", "0.35em")
        .attr("font-size", 9).attr("fill", ink).text(o);
});
</script>
</body>
</html>
